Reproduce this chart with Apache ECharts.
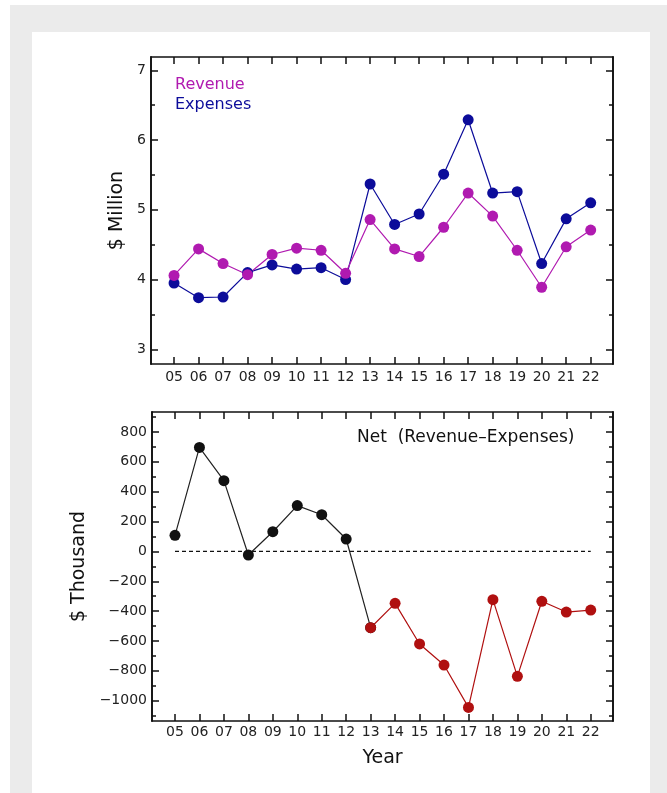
<!DOCTYPE html>
<html>
<head>
<meta charset="utf-8">
<script src="https://cdn.jsdelivr.net/npm/echarts@6/dist/echarts.min.js"></script>
<style>
html,body{margin:0;padding:0;background:#ffffff;}
#bg{position:absolute;left:10px;top:5px;width:657px;height:788px;background:#ebebeb;}
#panel{position:absolute;left:32px;top:32px;width:618px;height:761px;background:#ffffff;}
#chart{position:absolute;left:0;top:0;width:667px;height:793px;}
</style>
</head>
<body>
<div id="bg"></div>
<div id="panel"></div>
<div id="chart"></div>
<script>
// ---- data ----
var yearLabels = ['05','06','07','08','09','10','11','12','13','14','15','16','17','18','19','20','21','22'];
var yearNums = [5,6,7,8,9,10,11,12,13,14,15,16,17,18,19,20,21,22];
var revenue  = [4.06,4.44,4.23,4.07,4.36,4.45,4.42,4.09,4.86,4.44,4.33,4.75,5.24,4.91,4.42,3.89,4.47,4.71];
var expenses = [3.95,3.74,3.75,4.10,4.21,4.15,4.17,4.00,5.37,4.79,4.94,5.51,6.29,5.24,5.26,4.23,4.87,5.10];
var net      = [108,697,474,-24,132,307,246,83,-511,-348,-620,-761,-1045,-323,-837,-334,-406,-393];
var topTickLabels = [3,4,5,6,7];
var topMinorTicks = [3.5,4.5,5.5,6.5];
var botTickLabels = [-1000,-800,-600,-400,-200,0,200,400,600,800];
var botMinorTicks = [-1100,-900,-700,-500,-300,-100,100,300,500,700,900];

function pairs(xs, ys){ return xs.map(function(x,i){ return [x, ys[i]]; }); }
var netPos = pairs(yearNums.slice(0,9), net.slice(0,9));   // black part incl. segment to 13
var netNeg = pairs(yearNums.slice(8), net.slice(8));
var zeroLine = [[yearNums[0],0],[yearNums[yearNums.length-1],0]];

var FONT = 'DejaVu Sans';
var AX = '#111111';
var XMIN = 4.06, XMAX = 22.91;

function xAx(grid, pos, labels, margin){
  return {
    type:'value', gridIndex:grid, position:pos, min:XMIN, max:XMAX,
    splitLine:{show:false},
    axisLine:{show:true, onZero:false, lineStyle:{color:AX, width:1.6}},
    axisTick:{show:true, inside:true, length:7, lineStyle:{color:AX,width:1.5}, customValues: yearNums},
    axisLabel:{show:labels, customValues: yearNums, margin:margin||6, fontFamily:FONT, fontSize:14, color:'#222',
      formatter:function(v){ var i = yearNums.indexOf(Math.round(v)); return i>=0 ? yearLabels[i] : ''; }}
  };
}
function yAx(grid, pos, mn, mx, ticks, len, labels, fmt, name, nameGap){
  var o = {
    type:'value', gridIndex:grid, position:pos, min:mn, max:mx,
    splitLine:{show:false},
    axisLine:{show:true, onZero:false, lineStyle:{color:AX, width:1.6}},
    axisTick:{show:true, inside:true, length:len, lineStyle:{color:AX,width:1.5}, customValues: ticks},
    axisLabel:{show:labels, customValues: ticks, margin:5, fontFamily:FONT, fontSize:14, color:'#222', formatter: fmt}
  };
  if(name){
    o.name = name; o.nameLocation='middle'; o.nameGap=nameGap; o.nameRotate=90;
    o.nameTextStyle={fontFamily:FONT, fontSize:19, color:'#111'};
  }
  return o;
}
var fmtTop = function(v){ return String(v); };
var fmtBot = function(v){ return v<0 ? '\u2212'+Math.abs(v) : String(v); };

var chart = echarts.init(document.getElementById('chart'), null, {renderer:'canvas'});
var REV = '#b01ab0', EXP = '#0c0c9a', RED = '#b01010', BLK = '#111111';

chart.setOption({
  animation:false,
  backgroundColor:'transparent',
  grid:[
    {left:151, top:57, width:462, height:307},
    {left:152, top:412, width:461, height:309}
  ],
  xAxis:[
    xAx(0,'bottom',true,6), xAx(0,'top',false),
    Object.assign(xAx(1,'bottom',true,4), {name:'Year', nameLocation:'middle', nameGap:28,
      nameTextStyle:{fontFamily:FONT, fontSize:19, color:'#111'}}),
    xAx(1,'top',false)
  ],
  yAxis:[
    yAx(0,'left',2.79,7.19,topTickLabels,7,true,fmtTop,'$ Million',23),
    yAx(0,'left',2.79,7.19,topMinorTicks,4,false,fmtTop),
    yAx(0,'right',2.79,7.19,topTickLabels,7,false,fmtTop),
    yAx(0,'right',2.79,7.19,topMinorTicks,4,false,fmtTop),
    yAx(1,'left',-1136,934,botTickLabels,7,true,fmtBot,'$ Thousand',52),
    yAx(1,'left',-1136,934,botMinorTicks,4,false,fmtBot),
    yAx(1,'right',-1136,934,botTickLabels,7,false,fmtBot),
    yAx(1,'right',-1136,934,botMinorTicks,4,false,fmtBot)
  ],
  legend:{
    left:165, top:72, orient:'vertical', icon:'none', itemWidth:0, itemGap:4,
    textStyle:{fontFamily:FONT, fontSize:16},
    data:[{name:'Revenue', textStyle:{color:REV}}, {name:'Expenses', textStyle:{color:EXP}}],
    selectedMode:false
  },
  graphic:[
    {type:'text', left:357, top:429, style:{text:'Net  (Revenue\u2013Expenses)', fontFamily:FONT, fontSize:17, fill:'#111'}}
  ],
  series:[
    {name:'Expenses', type:'line', xAxisIndex:0, yAxisIndex:0, data:pairs(yearNums, expenses),
      symbol:'circle', symbolSize:11, lineStyle:{color:EXP, width:1.2}, itemStyle:{color:EXP}},
    {name:'Revenue', type:'line', xAxisIndex:0, yAxisIndex:0, data:pairs(yearNums, revenue),
      symbol:'circle', symbolSize:11, lineStyle:{color:REV, width:1.2}, itemStyle:{color:REV}},
    {name:'zero', type:'line', xAxisIndex:2, yAxisIndex:4, data:zeroLine, symbol:'none',
      lineStyle:{color:BLK, width:1.2, type:[4,3]}},
    {name:'Net+', type:'line', xAxisIndex:2, yAxisIndex:4, data:netPos,
      symbol:'circle', symbolSize:11, lineStyle:{color:'#222', width:1.2}, itemStyle:{color:BLK}},
    {name:'Net-', type:'line', xAxisIndex:2, yAxisIndex:4, data:netNeg, z:3,
      symbol:'circle', symbolSize:11, lineStyle:{color:RED, width:1.2}, itemStyle:{color:RED}}
  ]
});
</script>
</body>
</html>
